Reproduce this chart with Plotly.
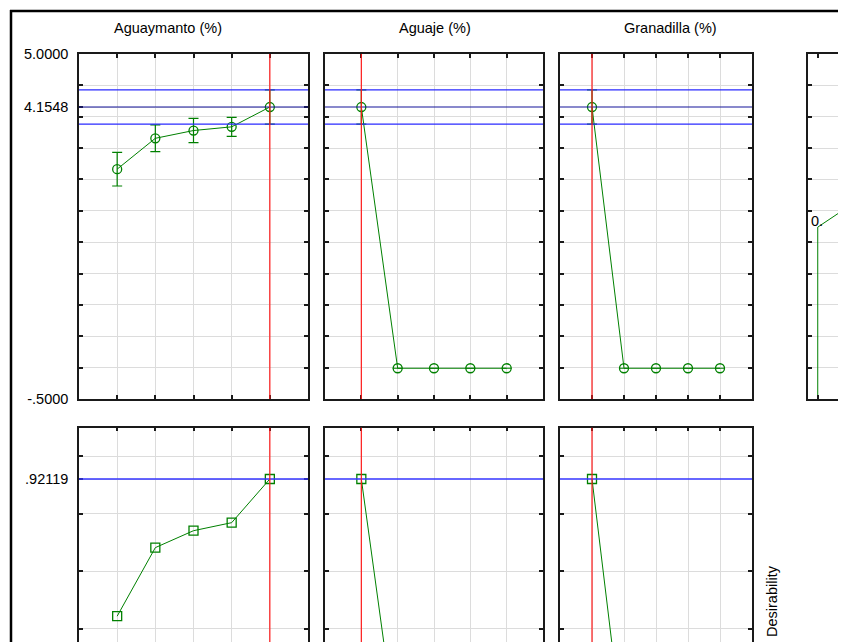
import plotly.graph_objects as go

# ---------------- data ----------------
factor_names = ["Aguaymanto (%)", "Aguaje (%)", "Granadilla (%)"]
levels = [1, 2, 3, 4, 5]

aguaymanto_resp = [3.164, 3.656, 3.780, 3.839, 4.1548]
aguaymanto_ci = [0.268, 0.213, 0.194, 0.151, 0.274]
aguaje_resp = [4.1548, -0.01, -0.01, -0.01, -0.01]
aguaje_ci = [0.274, 0, 0, 0, 0]
granadilla_resp = [4.1548, -0.01, -0.01, -0.01, -0.01]
granadilla_ci = [0.274, 0, 0, 0, 0]

aguaymanto_des = [0.443, 0.682, 0.741, 0.769, 0.92119]
aguaje_des = [0.92119, 0.0, 0.0, 0.0, 0.0]
granadilla_des = [0.92119, 0.0, 0.0, 0.0, 0.0]

current_levels = [5, 1, 1]
pred_value = 4.1548
pred_ci = 0.2735
overall_des = 0.92119

desfn_x = [0, 0, 1, 1]
desfn_y = [-0.5, 2.24, 4.32, 5.0]

resp_grid = [-0.5, 0.0, 0.5, 1.0, 1.5, 2.0, 2.5, 3.0, 3.5, 4.0, 4.5, 5.0]
resp_label_vals = [5.0, pred_value, -0.5]
resp_label_text = ["5.0000", "4.1548", "-.5000"]
des_grid = [0.4, 0.6, 0.8, 1.0]
des_label_vals = [overall_des]
des_label_text = [".92119"]

# ---------------- layout helpers ----------------
OFF = 8                      # page body margin in the browser
W, H = 846 - OFF, 642 - OFF  # figure size so that it ends at the window edges
FONT = "Liberation Sans, Arial, sans-serif"
GREEN = "#008000"


def sfx(n):
    return "" if n == 1 else str(n)


def px(x):
    return (x - OFF) / W


def py(y):
    return 1 - (y - OFF) / H


def dx(a, b):
    return [max(0, px(a)), min(1, px(b))]


def dy(top, bottom):
    return [max(0, py(bottom)), min(1, py(top))]


def merged_ticks(grid, lab_vals, lab_text):
    vals, texts = [], []
    for g in grid:
        vals.append(g)
        texts.append("")
    for v, t in zip(lab_vals, lab_text):
        found = False
        for k, g in enumerate(vals):
            if abs(g - v) < 1e-9:
                texts[k] = t
                found = True
        if not found:
            vals.append(v)
            texts.append(t)
    return vals, texts


cols = [(79, 308), (325, 543), (560, 752), (808, 846)]
top_dom = dy(54, 399)
bot_dom = dy(427.7, 642)

axis_common = dict(
    showline=True, linecolor="#1a1a1a", linewidth=1.5,
    ticks="inside", ticklen=4, tickcolor="#1a1a1a", tickwidth=1.5,
    showgrid=True, gridcolor="#dcdcdc", gridwidth=1,
    zeroline=False, automargin=False,
    tickfont=dict(family=FONT, size=14.5, color="#000"),
)

fig = go.Figure()
layout = {}

resp_sets = [(aguaymanto_resp, aguaymanto_ci), (aguaje_resp, aguaje_ci), (granadilla_resp, granadilla_ci)]
des_sets = [aguaymanto_des, aguaje_des, granadilla_des]

# top row: response profiles
for i in range(3):
    n = i + 1
    s = sfx(n)
    resp, ci = resp_sets[i]
    fig.add_trace(go.Scatter(
        x=levels, y=resp, mode="lines+markers",
        line=dict(color=GREEN, width=1),
        marker=dict(symbol="circle-open", size=9, color=GREEN, line=dict(width=1.3, color=GREEN)),
        error_y=dict(type="data", array=ci, arrayminus=ci, color=GREEN, thickness=1.2, width=5),
        xaxis=f"x{s}", yaxis=f"y{s}", showlegend=False, hoverinfo="skip",
    ))
    layout[f"xaxis{s}"] = dict(axis_common, domain=dx(*cols[i]), range=[0, 6], anchor=f"y{s}",
                               tickvals=[0] + levels + [6], showticklabels=False, mirror="ticks")
    if i == 0:
        tv, tt = merged_ticks(resp_grid, resp_label_vals, resp_label_text)
        layout[f"yaxis{s}"] = dict(axis_common, domain=top_dom, range=[-0.5, 5.0], anchor=f"x{s}",
                                   tickvals=tv, ticktext=tt, mirror="ticks", ticklabelstandoff=6)
    else:
        layout[f"yaxis{s}"] = dict(axis_common, domain=top_dom, range=[-0.5, 5.0], anchor=f"x{s}",
                                   tickvals=resp_grid, showticklabels=False, mirror="ticks")

# top-right: desirability function
fig.add_trace(go.Scatter(
    x=desfn_x, y=desfn_y, mode="lines", line=dict(color=GREEN, width=1),
    xaxis="x4", yaxis="y4", showlegend=False, hoverinfo="skip",
))
layout["xaxis4"] = dict(axis_common, domain=dx(*cols[3]), range=[-0.05, 0.145], anchor="y4",
                        tickvals=[0, 0.2, 0.4, 0.6, 0.8, 1.0], showticklabels=False, mirror="ticks",
                        showgrid=False)
layout["yaxis4"] = dict(axis_common, domain=top_dom, range=[-0.5, 5.0], anchor="x4",
                        tickvals=resp_grid, showticklabels=False, mirror=False)

# bottom row: desirability profiles
for i in range(3):
    n = i + 5
    fig.add_trace(go.Scatter(
        x=levels, y=des_sets[i], mode="lines+markers",
        line=dict(color=GREEN, width=1),
        marker=dict(symbol="square-open", size=9, color=GREEN, line=dict(width=1.3, color=GREEN)),
        xaxis=f"x{n}", yaxis=f"y{n}", showlegend=False, hoverinfo="skip", cliponaxis=True,
    ))
    layout[f"xaxis{n}"] = dict(axis_common, domain=dx(*cols[i]), range=[0, 6], anchor=f"y{n}",
                               side="top", tickvals=[0] + levels + [6], showticklabels=False, mirror=False)
    if i == 0:
        tv, tt = merged_ticks(des_grid, des_label_vals, des_label_text)
        layout[f"yaxis{n}"] = dict(axis_common, domain=bot_dom, range=[0.353, 1.1], anchor=f"x{n}",
                                   tickvals=tv, ticktext=tt, mirror="ticks", ticklabelstandoff=6)
    else:
        layout[f"yaxis{n}"] = dict(axis_common, domain=bot_dom, range=[0.353, 1.1], anchor=f"x{n}",
                                   tickvals=des_grid, showticklabels=False, mirror="ticks")

shapes = []
# blue prediction lines
for n in (1, 2, 3):
    s = sfx(n)
    for val, col in ((pred_value + pred_ci, "#2a2aff"), (pred_value, "#14149a"), (pred_value - pred_ci, "#2a2aff")):
        shapes.append(dict(type="line", xref=f"x{s} domain", yref=f"y{s}", x0=0, x1=1, y0=val, y1=val,
                           line=dict(color=col, width=1.2), layer="above"))
for n in (5, 6, 7):
    shapes.append(dict(type="line", xref=f"x{n} domain", yref=f"y{n}", x0=0, x1=1, y0=overall_des, y1=overall_des,
                       line=dict(color="#3434ff", width=1.4), layer="above"))
# red current-level lines
for i, lev in enumerate(current_levels):
    for n in (i + 1, i + 5):
        s = sfx(n)
        shapes.append(dict(type="line", xref=f"x{s}", yref=f"y{s} domain", x0=lev, x1=lev, y0=0, y1=1,
                           line=dict(color="#ff1a1a", width=1.2), layer="above"))
# outer frame lines
shapes.append(dict(type="line", xref="paper", yref="paper", x0=px(10), x1=1, y0=py(11), y1=py(11),
                   line=dict(color="#000", width=2.5)))
shapes.append(dict(type="line", xref="paper", yref="paper", x0=px(11), x1=px(11), y0=py(10), y1=0,
                   line=dict(color="#000", width=2.5)))

title_x = [168, 435.5, 670]
annotations = []
for name, cx in zip(factor_names, title_x):
    annotations.append(dict(text=name, xref="paper", yref="paper", x=px(cx), y=py(28),
                            xanchor="center", yanchor="middle", showarrow=False,
                            font=dict(family=FONT, size=14.5, color="#000")))
annotations.append(dict(text="Desirability", xref="paper", yref="paper", x=px(772), y=py(601),
                        xanchor="center", yanchor="middle", showarrow=False, textangle=-90,
                        font=dict(family=FONT, size=14.5, color="#000")))
annotations.append(dict(text="0.", xref="paper", yref="paper", x=px(809), y=py(221),
                        xanchor="left", yanchor="middle", showarrow=False,
                        font=dict(family=FONT, size=14.5, color="#000")))

fig.update_layout(
    width=W, height=H, template="none",
    margin=dict(l=0, r=0, t=0, b=0),
    paper_bgcolor="white", plot_bgcolor="white",
    shapes=shapes, annotations=annotations, **layout,
)

fig.write_html("out.html")
